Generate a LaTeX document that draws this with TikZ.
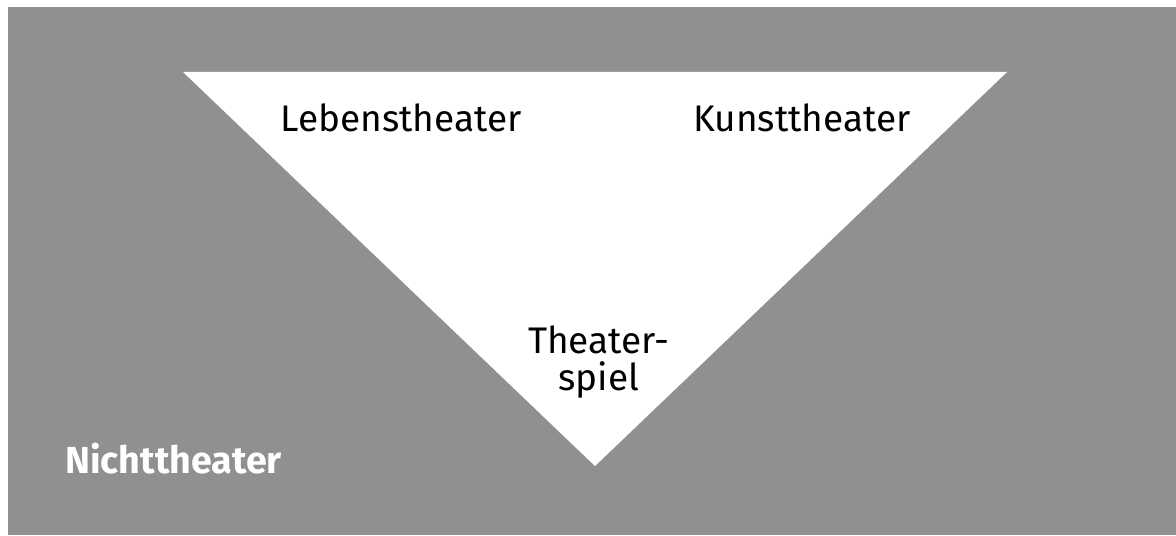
\documentclass[tikz,border=0pt]{standalone}
\usepackage{fontspec}
\setmainfont{Fira Sans}
\usepackage{xcolor}
\usepackage{tikz}
\usetikzlibrary{positioning}

\definecolor{nongray}{HTML}{909090}

\begin{document}
\begin{tikzpicture}[
  x=0.5pt, y=-0.5pt,
  font=\fontsize{18.5}{18.5}\selectfont,
  label/.style={inner sep=0pt, anchor=base, text=black},
  outer/.style={inner sep=0pt, anchor=base west, text=white,
                font=\fontsize{18.8}{19}\selectfont\bfseries},
]

% page and grey field
\useasboundingbox (0,0) rectangle (1176,535);
\fill[white] (0,0) rectangle (1176,535);
\fill[nongray] (8,7) rectangle (1176,535);

% the theatre triangle
\coordinate (tl) at (183,72);
\coordinate (tr) at (1007,72);
\coordinate (tip) at (595,466);
\fill[white] (tl) -- (tr) -- (tip) -- cycle;

% labels
\node[label] (leben) at (401,132) {Lebenstheater};
\node[label] (kunst) at (802,132) {Kunsttheater};
\node[label, align=center] (spiel) at (599,390) {Theater-\\spiel};
\node[outer] (nicht) at (65,473) {Nichttheater};

\end{tikzpicture}
\end{document}
